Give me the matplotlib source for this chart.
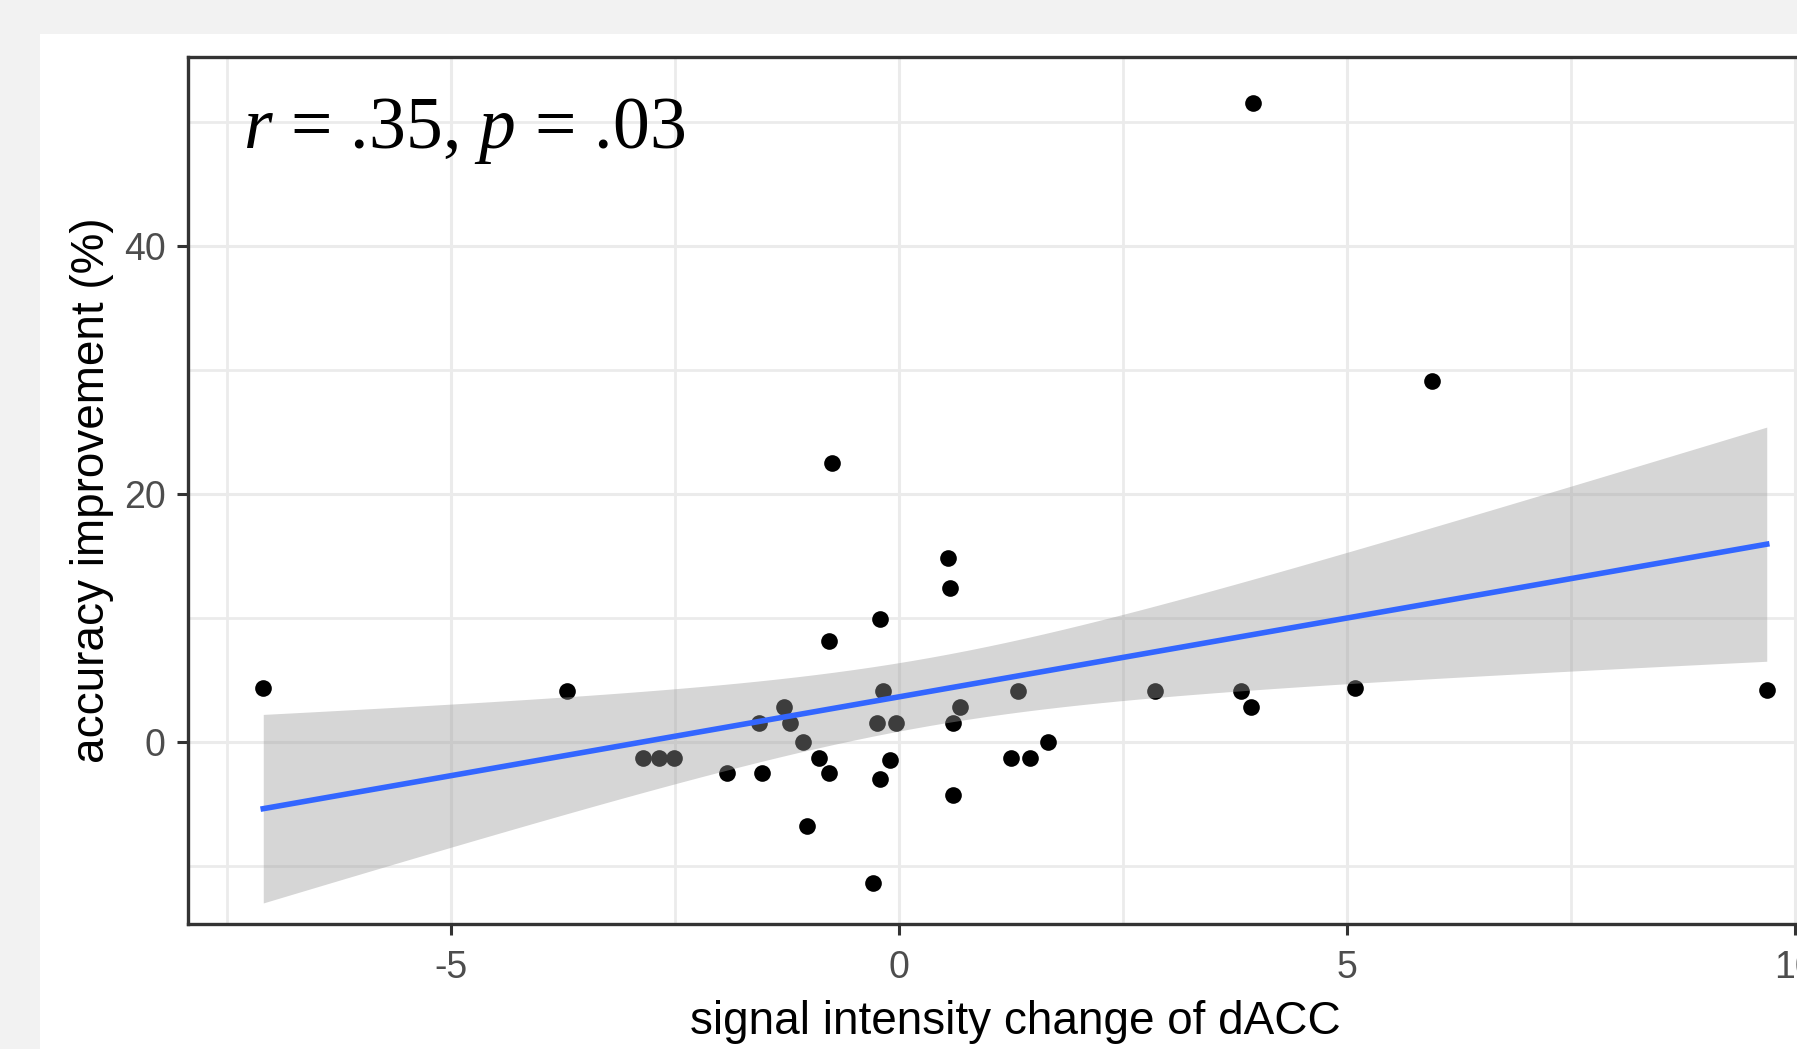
import numpy as np
import matplotlib
matplotlib.use("Agg")
from matplotlib import pyplot as plt
from matplotlib.patches import Rectangle
from matplotlib.ticker import MultipleLocator

plt.rcParams['font.family'] = ['Liberation Sans', 'DejaVu Sans']
plt.rcParams['mathtext.fontset'] = 'custom'
plt.rcParams['mathtext.rm'] = 'Liberation Serif'
plt.rcParams['mathtext.it'] = 'Liberation Serif:italic'
plt.rcParams['axes.unicode_minus'] = False

# signal intensity change of dACC vs accuracy improvement (%)
signal_change = [-7.10, -3.71, -2.86, -2.68, -2.52, -1.92, -1.53, -1.57, -1.29, -1.22,
                 -1.08, -1.03, -0.90, -0.79, -0.79, -0.75, -0.29, -0.22, -0.22, -0.185,
                 -0.25, -0.04, -0.11, 0.54, 0.565, 0.60, 0.68, 0.60, 1.25, 1.46,
                 1.66, 1.32, 2.85, 3.81, 3.92, 3.95, 5.09, 5.94, 9.68]
accuracy_gain = [4.3, 4.05, -1.3, -1.3, -1.3, -2.5, -2.5, 1.5, 2.8, 1.5,
                 0.0, -6.8, -1.3, -2.5, 8.1, 22.5, -11.4, 9.9, -3.0, 4.1,
                 1.5, 1.5, -1.5, 14.8, 12.4, 1.5, 2.8, -4.3, -1.3, -1.3,
                 0.0, 4.1, 4.1, 4.1, 2.8, 51.5, 4.3, 29.1, 4.2]
x_ticks = [-5, 0, 5, 10]
y_ticks = [0, 20, 40]
stat_label = r'$r$ = .35, $p$ = .03'

# t quantile for the band (two-sided 90%, df = 37); matches the drawn ribbon width
T_CRIT = 1.687


def lm_fit(x, y, n_grid=80):
    x = np.asarray(x)
    y = np.asarray(y)
    n = len(x)
    slope, intercept = np.polyfit(x, y, 1)
    resid = y - (intercept + slope * x)
    s = np.sqrt(np.sum(resid ** 2) / (n - 2))
    xg = np.linspace(x.min(), x.max(), n_grid)
    yg = intercept + slope * xg
    se = s * np.sqrt(1.0 / n + (xg - x.mean()) ** 2 / np.sum((x - x.mean()) ** 2))
    return xg, yg, yg - T_CRIT * se, yg + T_CRIT * se


W, H = 1797, 1049
fig = plt.figure(figsize=(W / 100, H / 100), dpi=100, facecolor='#f2f2f2')
fig.patches.append(Rectangle((40 / W, 0), 1 - 40 / W, (H - 34) / H,
                             transform=fig.transFigure, facecolor='white',
                             edgecolor='none', zorder=-10))

left, right, top, bottom = 188, 1842, 56.7, 924
ax = fig.add_axes([left / W, (H - bottom) / H, (right - left) / W, (bottom - top) / H])
ax.set_facecolor('white')

ax.plot(signal_change, accuracy_gain, 'o', color='black', markersize=12,
        markeredgewidth=0, zorder=2)
xg, yg, lo, hi = lm_fit(signal_change, accuracy_gain)
ax.fill_between(xg, lo, hi, color='#999999', alpha=0.4, linewidth=0, zorder=3)
ax.plot(xg, yg, color='#3366FF', linewidth=4, zorder=4)

ax.text(-7.33, 47.9, stat_label, fontsize=53, family='Liberation Serif',
        ha='left', va='baseline', zorder=5)

ax.set_xlim(-7.94, 10.52)
ax.set_ylim(-14.7, 55.24)
ax.set_xticks(x_ticks)
ax.set_xticklabels([str(t) for t in x_ticks])
ax.set_yticks(y_ticks)
ax.set_yticklabels([str(t) for t in y_ticks])
ax.xaxis.set_minor_locator(MultipleLocator(2.5))
ax.yaxis.set_minor_locator(MultipleLocator(10))
ax.set_axisbelow(True)
ax.grid(which='major', color='#ebebeb', linewidth=2.2)
ax.grid(which='minor', color='#ebebeb', linewidth=2.0)
ax.tick_params(which='minor', length=0)
ax.tick_params(which='major', length=8, width=2.2, color='#333333',
               labelsize=27, labelcolor='#4d4d4d')
ax.tick_params(axis='x', pad=11)
ax.tick_params(axis='y', pad=8)
for sp in ax.spines.values():
    sp.set_color('#333333')
    sp.set_linewidth(2.4)
    sp.set_zorder(6)

ax.set_xlabel('signal intensity change of dACC', fontsize=33, color='black')
ax.set_ylabel('accuracy improvement (%)', fontsize=33, color='black')
ax.xaxis.set_label_coords(0.5, -0.0876)
ax.yaxis.set_label_coords(-0.0446, 0.5)

fig.savefig('out.png', dpi=100, facecolor=fig.get_facecolor())
